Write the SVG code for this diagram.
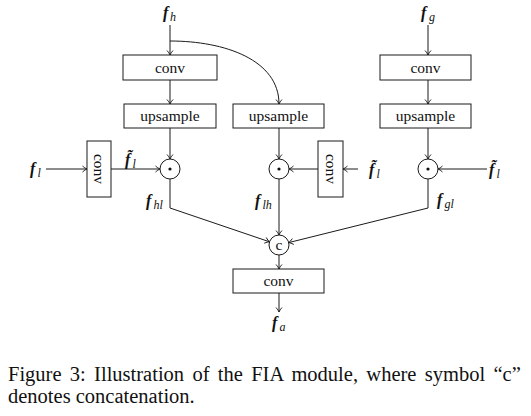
<svg xmlns="http://www.w3.org/2000/svg" width="531" height="416" viewBox="0 0 531 416">
<style>
  .box{fill:#fff;stroke:#1a1a1a;stroke-width:1}
  .lbl{font-family:"Liberation Serif","Times New Roman",serif;font-size:15.5px;fill:#111;text-anchor:middle}
  .f{font-family:"Liberation Serif","Times New Roman",serif;font-size:16px;font-weight:bold;font-style:italic;fill:#111}
  .s{font-family:"Liberation Serif","Times New Roman",serif;font-size:12px;font-style:italic;fill:#111}
  .ln{fill:none;stroke:#1a1a1a;stroke-width:1}
  .cap{font-family:"Liberation Serif","Times New Roman",serif;font-size:20.5px;fill:#111}
</style>
<defs>
  <marker id="arr" markerWidth="8" markerHeight="8" refX="6.5" refY="4" orient="auto" markerUnits="userSpaceOnUse">
    <path d="M2,1 Q4.5,3.3 6.5,4 Q4.5,4.7 2,7" fill="none" stroke="#1a1a1a" stroke-width="0.9"/>
  </marker>
</defs>

<g id="connectors">
  <path class="ln" d="M170,25 V55" marker-end="url(#arr)"/>
  <path class="ln" d="M170,41 C225,41 279,60 279,104" marker-end="url(#arr)"/>
  <path class="ln" d="M170,80 V104" marker-end="url(#arr)"/>
  <path class="ln" d="M428,25 V55" marker-end="url(#arr)"/>
  <path class="ln" d="M428,80 V104" marker-end="url(#arr)"/>
  <path class="ln" d="M170,128 V159" marker-end="url(#arr)"/>
  <path class="ln" d="M279,128 V159" marker-end="url(#arr)"/>
  <path class="ln" d="M428,128 V159" marker-end="url(#arr)"/>
  <path class="ln" d="M46,169 H87" marker-end="url(#arr)"/>
  <path class="ln" d="M111,169 H160" marker-end="url(#arr)"/>
  <path class="ln" d="M358,169 H343" marker-end="url(#arr)"/>
  <path class="ln" d="M318,169 H289" marker-end="url(#arr)"/>
  <path class="ln" d="M487,169 H438" marker-end="url(#arr)"/>
  <path class="ln" d="M170,179 V208 L269.5,241.8" marker-end="url(#arr)"/>
  <path class="ln" d="M279,179 V235" marker-end="url(#arr)"/>
  <path class="ln" d="M428,179 V208 L288.7,242.6" marker-end="url(#arr)"/>
  <path class="ln" d="M279,255 V269" marker-end="url(#arr)"/>
  <path class="ln" d="M279,293 V312" marker-end="url(#arr)"/>
</g>

<g id="fh"><text class="f" x="163" y="18">f</text><text class="s" x="170" y="21">h</text></g>
<g id="fg"><text class="f" x="421" y="18">f</text><text class="s" x="429" y="21">g</text></g>

<g id="conv1"><rect class="box" x="123" y="55" width="94" height="25"/><text class="lbl" x="170" y="72.5">conv</text></g>
<g id="conv3"><rect class="box" x="380" y="55" width="91" height="25"/><text class="lbl" x="425.5" y="72.5">conv</text></g>

<g id="up1"><rect class="box" x="124" y="104" width="92" height="24"/><text class="lbl" x="170" y="121">upsample</text></g>
<g id="up2"><rect class="box" x="233" y="104" width="91" height="24"/><text class="lbl" x="278.5" y="121">upsample</text></g>
<g id="up3"><rect class="box" x="380" y="104" width="91" height="24"/><text class="lbl" x="425.5" y="121">upsample</text></g>

<g id="convL"><rect class="box" x="87" y="141" width="24" height="56"/><text class="lbl" transform="translate(99,169) rotate(90)" x="0" y="5">conv</text></g>
<g id="convR"><rect class="box" x="318" y="141" width="25" height="56"/><text class="lbl" transform="translate(330.5,169) rotate(90)" x="0" y="5">conv</text></g>

<g id="dot1"><circle class="box" cx="170" cy="169" r="10"/><circle cx="170" cy="169" r="1.6" fill="#111"/></g>
<g id="dot2"><circle class="box" cx="279" cy="169" r="10"/><circle cx="279" cy="169" r="1.6" fill="#111"/></g>
<g id="dot3"><circle class="box" cx="428" cy="169" r="10"/><circle cx="428" cy="169" r="1.6" fill="#111"/></g>

<g id="fl"><text class="f" x="30" y="174">f</text><text class="s" x="37.5" y="177">l</text></g>
<g id="flt1"><text class="f" x="125" y="165">f&#771;</text><text class="s" x="132.5" y="168">l</text></g>
<g id="flt2"><text class="f" x="369" y="175">f&#771;</text><text class="s" x="376.5" y="178">l</text></g>
<g id="flt3"><text class="f" x="489" y="175">f&#771;</text><text class="s" x="496.5" y="178">l</text></g>

<g id="fhl"><text class="f" x="146" y="206">f</text><text class="s" x="153.5" y="209">hl</text></g>
<g id="flh"><text class="f" x="255" y="206">f</text><text class="s" x="262.5" y="209">lh</text></g>
<g id="fgl"><text class="f" x="437" y="205">f</text><text class="s" x="444.5" y="208">gl</text></g>

<g id="concat"><circle class="box" cx="279" cy="245" r="10"/><text class="lbl" x="279" y="249.5">c</text></g>
<g id="conv4"><rect class="box" x="233" y="269" width="91" height="24"/><text class="lbl" x="278.5" y="286">conv</text></g>
<g id="fa"><text class="f" x="272" y="328">f</text><text class="s" x="279.5" y="331">a</text></g>

<text class="cap" x="8" y="381" word-spacing="3.2">Figure 3: Illustration of the FIA module, where symbol “c”</text>
<text class="cap" x="8" y="403">denotes concatenation.</text>
</svg>
